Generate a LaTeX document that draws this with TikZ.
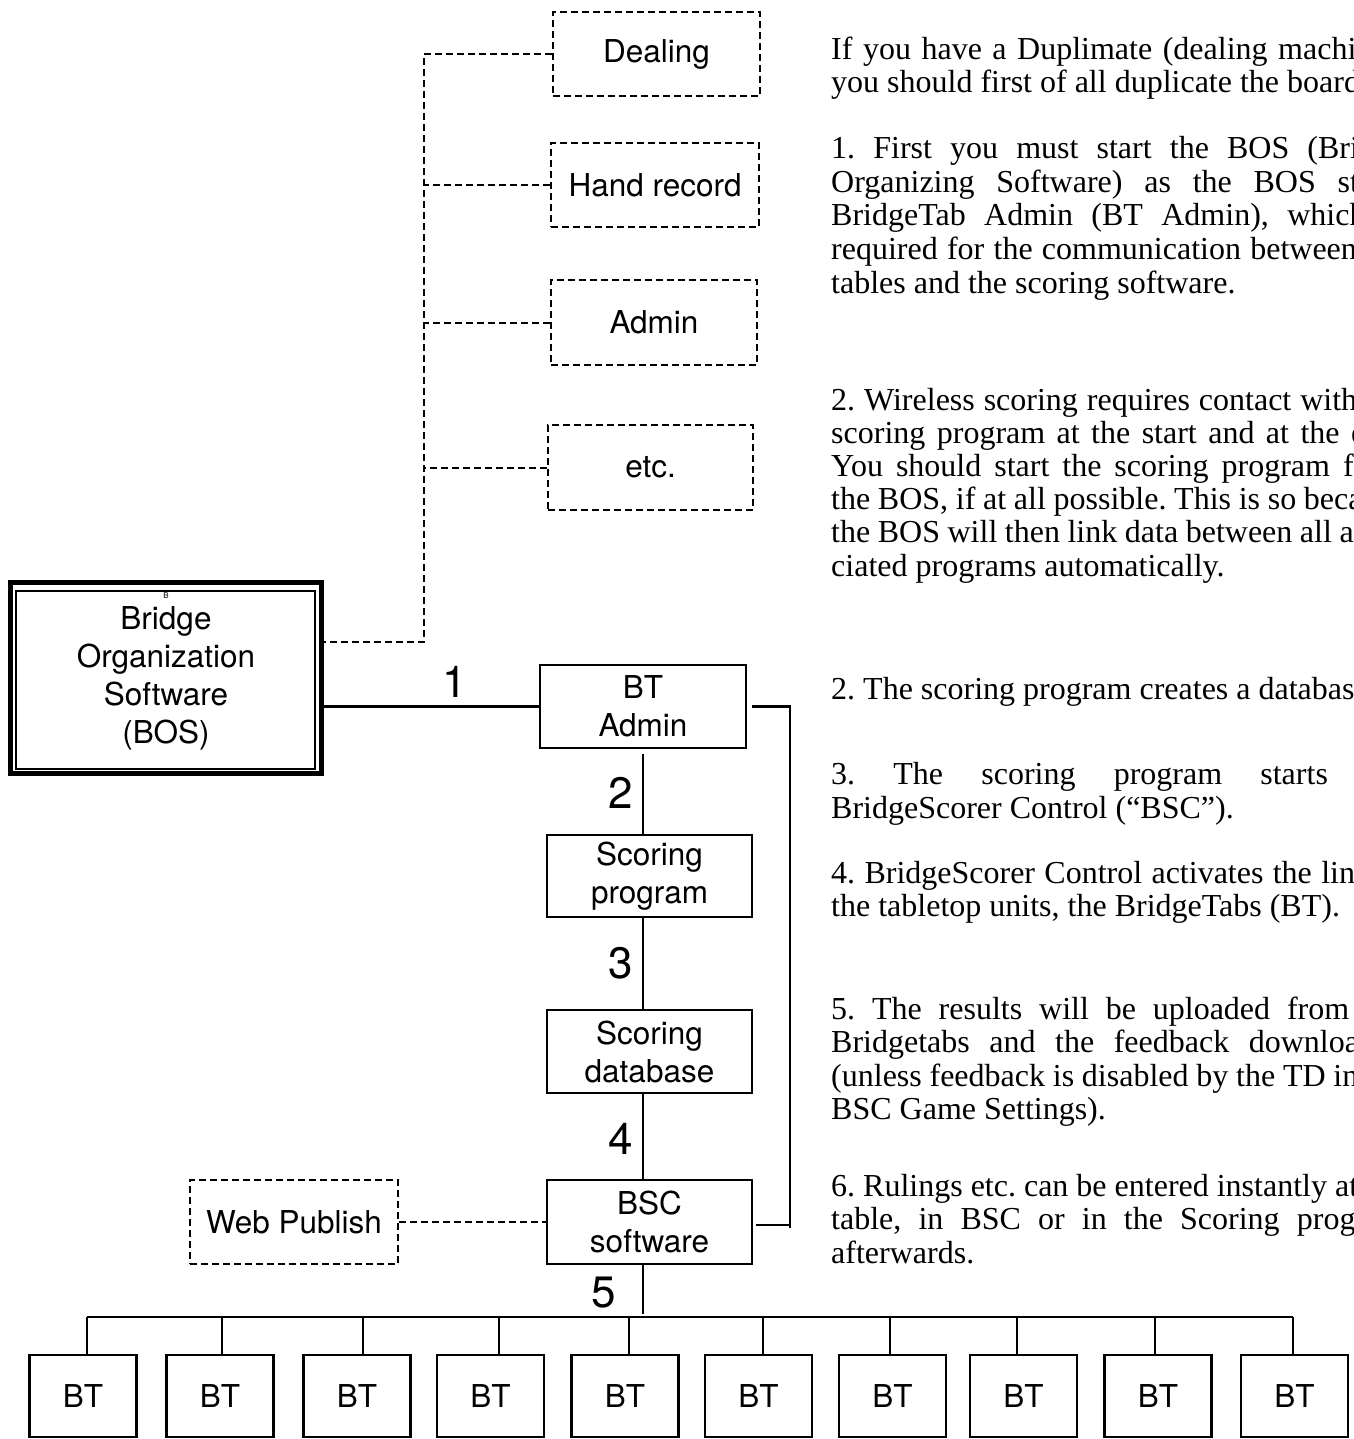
\documentclass[tikz,border=0pt]{standalone}
\usepackage{fontspec}
\setmainfont{Liberation Serif}
\newfontfamily\hv{TeX Gyre Heros}
\newcommand{\jl}[1]{\makebox[574pt][s]{#1}}
\begin{document}
\frenchspacing
\begin{tikzpicture}[x=1pt,y=-1pt,
  box/.style={draw, line width=2.4pt, font=\hv\fontsize{31.5}{38}\selectfont, align=center, inner sep=0pt},
  dbox/.style={box, line width=2pt, dash pattern=on 7pt off 4pt},
  dl/.style={line width=2pt, dash pattern=on 7pt off 4pt},
  ln/.style={line width=2.2pt},
  num/.style={font=\hv\fontsize{44}{44}\selectfont, inner sep=0pt},
  para/.style={anchor=base west, inner sep=0pt, font=\frenchspacing\fontsize{32}{33.3}\selectfont}]
\useasboundingbox (0,0) rectangle (1353,1439);
\clip (0,0) rectangle (1353,1439);
% top dashed boxes
\node[dbox, minimum width=207pt, minimum height=84pt] (deal) at (656.5,54) {Dealing};
\node[dbox, minimum width=208pt, minimum height=84pt] (hand) at (655,185) {Hand record};
\node[dbox, minimum width=206pt, minimum height=85pt] (adm) at (654,322.5) {Admin};
\node[dbox, minimum width=205pt, minimum height=85pt] (etc) at (650.5,467.5) {etc.};
% BOS
\node[box, line width=5pt, minimum width=311pt, minimum height=190.5pt] (bos) at (166,678) {Bridge\\Organization\\Software\\(BOS)};
\draw[line width=1.5pt] (16,591) rectangle (315,769);
\node[font=\hv\fontsize{8}{8}\selectfont, inner sep=0pt] (bsmall) at (166,596) {B};
% chain
\node[box, minimum width=206pt, minimum height=83pt] (bta) at (643,706.5) {BT\\Admin};
\node[box, minimum width=205pt, minimum height=82pt] (sp) at (649.5,876) {Scoring\\program};
\node[box, minimum width=205pt, minimum height=83pt] (sdb) at (649.5,1051.5) {Scoring\\database};
\node[box, minimum width=205pt, minimum height=84pt] (bsc) at (649.5,1222) {BSC\\software};
\node[dbox, minimum width=208pt, minimum height=84pt] (web) at (294,1222) {Web Publish};
% dashed trunk
\coordinate (trt) at (424,54);
\coordinate (trb) at (424,642);
\draw[dl] (deal.west) -- (trt) -- (trb) -- (trb -| bos.east);
\draw[dl] (hand.west) -- (hand.west -| trt);
\draw[dl] (adm.west) -- (adm.west -| trt);
\draw[dl] (etc.west) -- (etc.west -| trt);
\draw[dl] (web.east) -- (bsc.west);
% solid connectors
\draw[ln] (bta.west) -- (bta.west -| bos.east);
\draw[ln] ([yshift=-5pt]bta.south) -- (bta.south |- sp.north);
\draw[ln] (bta.south |- sp.south) -- (bta.south |- sdb.north);
\draw[ln] (bta.south |- sdb.south) -- (bta.south |- bsc.north);
\coordinate (rc) at (790,0);
\draw[ln] ([xshift=5pt]bta.east) -| ([yshift=-6pt]rc |- bsc.east);
\draw[ln] ([yshift=-3pt,xshift=3pt]bsc.east) -- ([yshift=-3pt]rc |- bsc.east);
% numbers
\node[num] (n1) at (455,682) {1};
\node[num] (n2) at (621,793) {2};
\node[num] (n3) at (621,963) {3};
\node[num] (n4) at (621,1139) {4};
\node[num] (n5) at (604,1293) {5};
% bus and BT row
\coordinate (busL) at (87,1317);
\coordinate (busR) at (1293,1317);
\draw[ln] (busL) -- (busR);
\draw[ln] (bta.south |- bsc.south) -- ([yshift=3pt]bta.south |- busL);
\foreach \i/\cx/\dx in {1/83/4,2/220/2,3/357/6,4/490.5/8.5,5/625/4,6/758.5/4.5,7/892.5/-2.5,8/1023.5/-6.5,9/1158/-3,10/1294.5/-1.5}{
  \node[box, minimum width=107pt, minimum height=82pt] (bt\i) at (\cx,1396) {BT};
  \draw[ln] ([xshift=\dx pt]bt\i.north) -- ([xshift=\dx pt]bt\i.north |- busL);
}
% paragraph text
\node[para] (p1) at (831,60) {\jl{If you have a Duplimate (dealing machine),}};
\node[para] (p2) at (831,93) {you should first of all duplicate the boards.};
\node[para] (p3) at (831,159) {\jl{1. First you must start the BOS (Bridge}};
\node[para] (p4) at (831,193) {\jl{Organizing Software) as the BOS starts}};
\node[para] (p5) at (831,226) {\jl{BridgeTab Admin (BT Admin), which is}};
\node[para] (p6) at (831,259) {\jl{required for the communication between the}};
\node[para] (p7) at (831,293) {tables and the scoring software.};
\node[para] (p8) at (831,410) {\jl{2. Wireless scoring requires contact with the}};
\node[para] (p9) at (831,443) {\jl{scoring program at the start and at the end.}};
\node[para] (p10) at (831,476) {\jl{You should start the scoring program from}};
\node[para] (p11) at (831,509) {\jl{the BOS, if at all possible. This is so because}};
\node[para] (p12) at (831,542) {\jl{the BOS will then link data between all asso-}};
\node[para] (p13) at (831,576) {ciated programs automatically.};
\node[para] (p14) at (831,699) {2. The scoring program creates a database.};
\node[para] (p15) at (831,784) {\jl{3. The scoring program starts the}};
\node[para] (p16) at (831,818) {BridgeScorer Control (“BSC”).};
\node[para] (p17) at (831,883) {\jl{4. BridgeScorer Control activates the link to}};
\node[para] (p18) at (831,916) {the tabletop units, the BridgeTabs (BT).};
\node[para] (p19) at (831,1019) {\jl{5. The results will be uploaded from the}};
\node[para] (p20) at (831,1052) {\jl{Bridgetabs and the feedback downloaded}};
\node[para] (p21) at (831,1086) {\jl{(unless feedback is disabled by the TD in the}};
\node[para] (p22) at (831,1119) {BSC Game Settings).};
\node[para] (p23) at (831,1196) {\jl{6. Rulings etc. can be entered instantly at the}};
\node[para] (p24) at (831,1229) {\jl{table, in BSC or in the Scoring program}};
\node[para] (p25) at (831,1263) {afterwards.};
\end{tikzpicture}
\end{document}
